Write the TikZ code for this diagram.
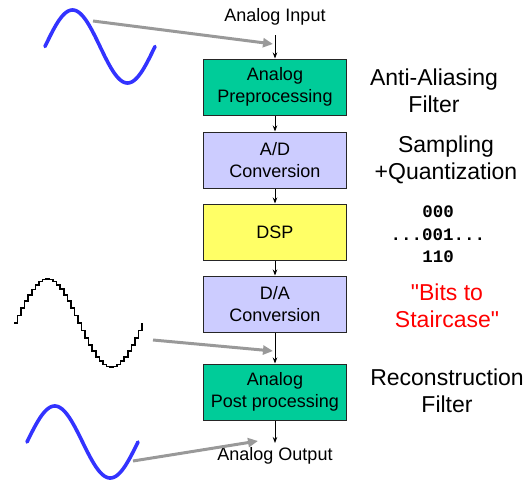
\documentclass[tikz,border=0pt]{standalone}
\usepackage{fontspec}
\setmainfont{Liberation Sans}
\setmonofont{Liberation Mono}
% same face without the TeX quote mapping, so " stays a straight quote
\newfontfamily\straightquotes{Liberation Sans}[Ligatures=TeXOff]
\usetikzlibrary{arrows.meta}
\definecolor{boxgreen}{HTML}{00CC99}
\definecolor{boxlilac}{HTML}{CCCCFF}
\definecolor{boxyellow}{HTML}{FFFF66}
\definecolor{waveblue}{HTML}{3333FF}
\definecolor{pointer}{HTML}{999999}
\tikzset{
  stage/.style={draw=black!85, line width=1, minimum width=143, minimum height=56,
    inner sep=0, align=center, font=\fontsize{18}{22}\selectfont},
  flow/.style={line width=0.9, -{Stealth[length=6,width=4.5]}},
  pointerarrow/.style={draw=pointer, line width=3, -{Triangle[length=10,width=9]}},
  sidenote/.style={align=center, inner sep=0, font=\fontsize{23}{27}\selectfont},
  termlabel/.style={inner sep=0, font=\fontsize{18}{22}\selectfont},
  bitsfont/.style={inner sep=0, font=\fontsize{17.5}{22}\selectfont\ttfamily\bfseries},
  smoothwave/.style={waveblue, line width=3.6, line cap=round},
  stairwave/.style={black, line width=1.6}
}
\begin{document}
\begin{tikzpicture}[x=1pt, y=-1pt]
\useasboundingbox (0,0) rectangle (528,480);

% processing chain
\node[termlabel] (in) at (275,17) {Analog Input};
\node[stage, fill=boxgreen] (pre) at (275,87) {Analog\\Preprocessing};
\node[stage, fill=boxlilac] (adc) at (275,160) {A/D\\Conversion};
\node[stage, fill=boxyellow] (dsp) at (275,232) {DSP};
\node[stage, fill=boxlilac] (dac) at (275,304) {D/A\\Conversion};
\node[stage, fill=boxgreen] (post) at (275,392) {Analog\\Post processing};
\node[termlabel] (out) at (275,456) {Analog Output};

\coordinate (inend) at (275,35);
\coordinate (outend) at (275,443);
\draw[flow] (inend) -- (pre.north);
\draw[flow] (pre) -- (adc);
\draw[flow] (adc) -- (dsp);
\draw[flow] (dsp) -- (dac);
\draw[flow] (dac) -- (post);
\draw[flow] (post.south) -- (outend);

% side notes
\node[sidenote] (aa) at (434,91) {Anti-Aliasing\\Filter};
\node[sidenote] (sq) at (446,160) {Sampling\\+Quantization};
\node[bitsfont] (b1) at (438,212) {000};
\node[bitsfont] (b2) at (438,235) {...001...};
\node[bitsfont] (b3) at (438,257) {110};
\node[sidenote, text=red, font=\fontsize{23}{27}\selectfont\straightquotes] (bs) at (447,306) {"Bits to\\Staircase"};
\node[sidenote] (rf) at (447,391) {Reconstruction\\Filter};

% waveforms
\draw[smoothwave] plot[domain=45:155, samples=90, smooth] (\x, {46.5 - 36.5*sin((\x-45)/110*360)});
\draw[stairwave] plot[const plot, domain=14:142, samples=37] (\x, {323 - 44*sin((\x-14)/128*360)});
\draw[smoothwave] plot[domain=27:138, samples=90, smooth] (\x, {442 - 36*sin((\x-27)/111*360)});

% pointers from the waveforms to the signal path
\coordinate (w1) at (93,21);
\coordinate (t1) at (273,44);
\coordinate (w2) at (153,340);
\coordinate (t2) at (273,351);
\coordinate (w3) at (133,461);
\coordinate (t3) at (258,441);
\draw[pointerarrow] (w1) -- (t1);
\draw[pointerarrow] (w2) -- (t2);
\draw[pointerarrow] (w3) -- (t3);
\end{tikzpicture}
\end{document}
